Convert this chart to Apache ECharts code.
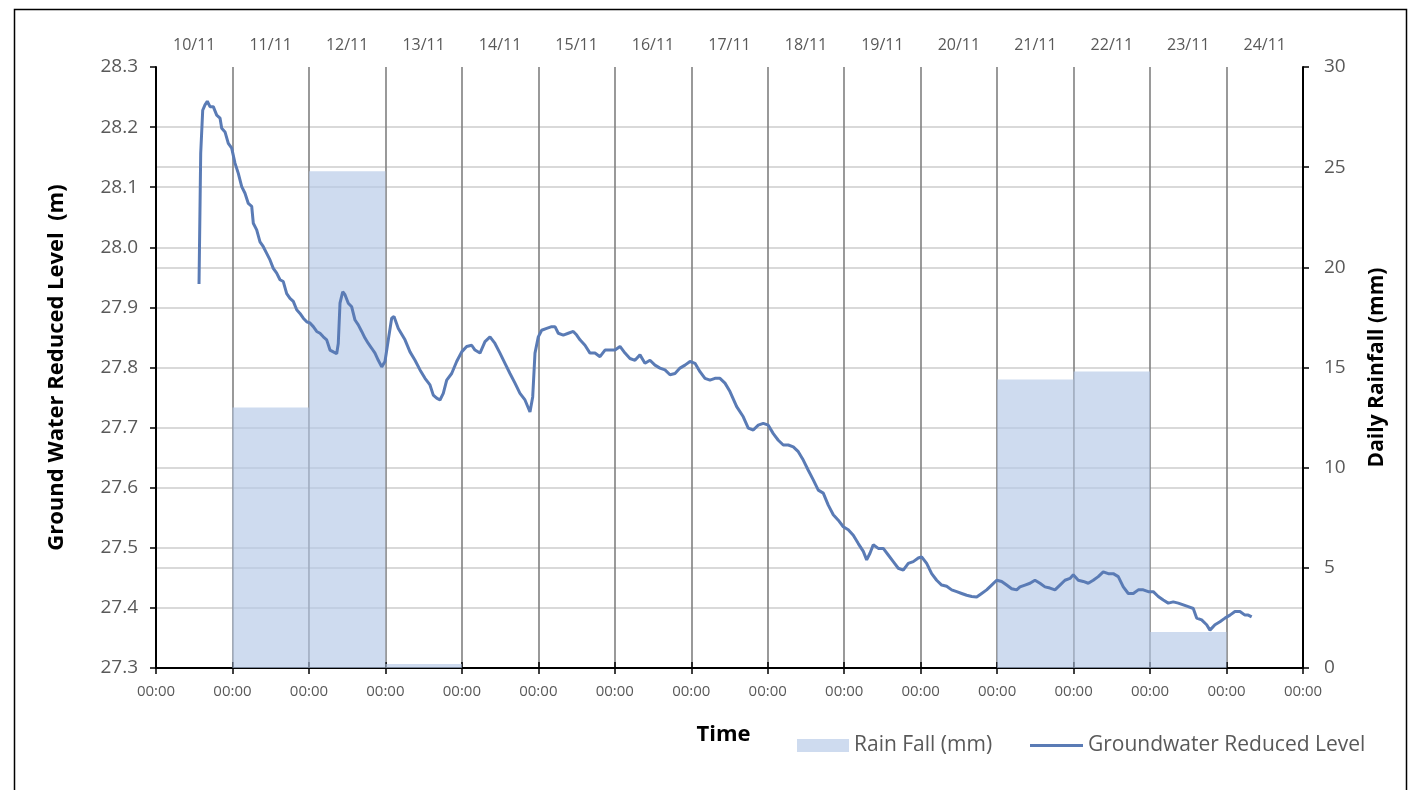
<!DOCTYPE html>
<html>
<head>
<meta charset="utf-8">
<script src="https://cdn.jsdelivr.net/npm/echarts@6/dist/echarts.min.js"></script>
<style>
  html, body { margin: 0; padding: 0; background: #ffffff; }
  #chart { width: 1411px; height: 790px; }
</style>
</head>
<body>
<div id="chart"></div>
<script>
// Day labels along the top axis (one band per day, 10/11 to 24/11)
const days = ['10/11', '11/11', '12/11', '13/11', '14/11', '15/11', '16/11', '17/11',
              '18/11', '19/11', '20/11', '21/11', '22/11', '23/11', '24/11'];

// Daily rainfall (mm) for each day band
const rainfall = [0, 13.0, 24.8, 0.2, 0, 0, 0, 0, 0, 0, 0, 14.4, 14.8, 1.8, 0];

// Groundwater logger: hours since 10/11 00:00 and reduced level (m)
const hours = [
  13.50, 14.03, 14.66, 15.38, 16.10, 16.95, 17.98, 19.05, 20.09, 20.62, 21.66, 22.69, 23.76, 24.79, 25.83, 26.90,
  27.93, 28.97, 30.04, 30.54, 31.60, 32.64, 33.68, 34.74, 35.78, 36.81, 37.88, 38.92, 39.95, 41.02, 42.06, 43.09,
  44.16, 45.19, 46.23, 47.30, 48.33, 49.37, 50.44, 51.47, 52.51, 53.57, 54.61, 55.65, 56.71, 57.21, 57.75, 58.60,
  59.32, 60.35, 61.42, 62.46, 63.49, 64.56, 65.59, 66.63, 67.70, 68.73, 69.77, 70.84, 71.87, 72.91, 73.97, 74.70,
  76.05, 76.58, 78.15, 79.72, 81.29, 82.86, 84.43, 85.99, 87.03, 88.10, 89.13, 90.17, 91.24, 92.80, 94.37, 95.94,
  97.51, 99.08, 100.12, 101.69, 103.26, 104.83, 106.39, 107.96, 109.53, 111.10, 112.67, 114.24, 115.81, 117.38, 118.23, 118.95,
  119.99, 121.05, 122.62, 124.19, 125.23, 126.26, 127.83, 129.40, 130.97, 132.04, 133.07, 134.64, 136.21, 137.78, 139.35, 140.92,
  142.49, 144.06, 145.63, 147.20, 148.76, 150.33, 151.90, 153.47, 155.04, 156.61, 158.18, 159.75, 161.32, 162.89, 164.46, 166.03,
  167.60, 169.17, 170.73, 172.30, 173.87, 175.44, 177.01, 178.58, 180.15, 182.25, 184.32, 185.89, 187.46, 189.03, 190.60, 192.17,
  193.74, 195.31, 196.88, 198.45, 200.02, 201.59, 203.15, 204.72, 206.29, 207.86, 209.43, 211.00, 212.57, 214.14, 215.71, 217.28,
  218.85, 220.42, 221.99, 223.05, 224.09, 225.12, 226.69, 228.26, 229.83, 231.40, 232.97, 234.54, 236.11, 237.68, 239.25, 240.31,
  241.88, 243.45, 245.02, 246.59, 248.16, 249.73, 251.30, 252.87, 254.44, 256.01, 257.58, 259.14, 260.71, 262.28, 263.85, 265.42,
  266.99, 268.56, 270.13, 271.17, 272.74, 274.31, 275.87, 277.44, 279.01, 280.58, 282.15, 283.72, 285.29, 286.86, 287.90, 289.47,
  291.03, 292.60, 294.17, 295.74, 297.31, 298.88, 300.45, 302.02, 303.59, 305.16, 306.73, 308.30, 309.87, 311.44, 313.00, 314.57,
  316.14, 317.71, 319.28, 320.85, 322.42, 323.99, 325.56, 326.62, 328.19, 329.76, 330.80, 332.37, 333.94, 335.51, 337.08, 338.64,
  340.21, 341.78, 342.82, 343.89
];
const levels = [
  27.939, 28.156, 28.228, 28.237, 28.243, 28.234, 28.234, 28.220, 28.215, 28.198, 28.192, 28.173, 28.165, 28.140, 28.123, 28.101,
  28.090, 28.073, 28.068, 28.040, 28.029, 28.009, 28.001, 27.990, 27.979, 27.965, 27.957, 27.946, 27.943, 27.923, 27.915, 27.910,
  27.896, 27.890, 27.882, 27.876, 27.874, 27.868, 27.860, 27.857, 27.851, 27.846, 27.829, 27.826, 27.823, 27.840, 27.907, 27.926,
  27.921, 27.907, 27.901, 27.879, 27.871, 27.860, 27.849, 27.840, 27.832, 27.824, 27.812, 27.801, 27.810, 27.846, 27.882, 27.885,
  27.865, 27.862, 27.846, 27.826, 27.812, 27.796, 27.782, 27.771, 27.754, 27.749, 27.746, 27.757, 27.779, 27.790, 27.810, 27.826,
  27.835, 27.837, 27.829, 27.824, 27.843, 27.851, 27.840, 27.824, 27.807, 27.790, 27.774, 27.757, 27.746, 27.726, 27.751, 27.824,
  27.851, 27.862, 27.865, 27.868, 27.868, 27.857, 27.854, 27.857, 27.860, 27.854, 27.846, 27.837, 27.824, 27.824, 27.818, 27.829,
  27.829, 27.829, 27.835, 27.824, 27.815, 27.812, 27.821, 27.807, 27.812, 27.804, 27.799, 27.796, 27.788, 27.790, 27.799, 27.804,
  27.810, 27.807, 27.793, 27.782, 27.779, 27.782, 27.782, 27.774, 27.760, 27.735, 27.718, 27.699, 27.696, 27.704, 27.707, 27.704,
  27.690, 27.679, 27.671, 27.671, 27.668, 27.660, 27.646, 27.629, 27.613, 27.596, 27.591, 27.571, 27.555, 27.546, 27.535, 27.530,
  27.521, 27.507, 27.494, 27.480, 27.491, 27.505, 27.499, 27.499, 27.488, 27.477, 27.466, 27.463, 27.474, 27.477, 27.483, 27.485,
  27.474, 27.457, 27.446, 27.438, 27.436, 27.430, 27.427, 27.424, 27.421, 27.419, 27.418, 27.424, 27.430, 27.438, 27.446, 27.444,
  27.438, 27.432, 27.430, 27.435, 27.438, 27.441, 27.446, 27.441, 27.435, 27.433, 27.430, 27.438, 27.446, 27.449, 27.455, 27.446,
  27.444, 27.441, 27.446, 27.452, 27.460, 27.457, 27.457, 27.452, 27.435, 27.424, 27.424, 27.430, 27.430, 27.427, 27.427, 27.419,
  27.413, 27.408, 27.410, 27.408, 27.405, 27.402, 27.399, 27.383, 27.380, 27.372, 27.363, 27.372, 27.377, 27.383, 27.388, 27.394,
  27.394, 27.388, 27.388, 27.385
];

const levelPoints = hours.map((h, i) => [h, levels[i]]);

const FONT = '"Open Sans", "Liberation Sans", sans-serif';
const TICK_GREY = '#595959';
const LINE_BLUE = '#5a7bb5';

const chart = echarts.init(document.getElementById('chart'), null, { renderer: 'canvas' });

const legendText = { fontSize: 21, color: TICK_GREY, fontFamily: FONT };

chart.setOption({
  animation: false,
  backgroundColor: '#ffffff',
  textStyle: { fontFamily: FONT },
  grid: { left: 156, right: 108, top: 67, bottom: 122, containLabel: false },
  legend: [
    {
      left: 797,
      top: 735,
      padding: 0,
      itemWidth: 52,
      itemHeight: 13,
      itemGap: 6,
      textStyle: legendText,
      data: [{ name: 'Rain Fall (mm)', icon: 'rect' }]
    },
    {
      left: 1030,
      top: 735,
      padding: 0,
      itemWidth: 53,
      itemHeight: 3,
      textStyle: legendText,
      data: [{ name: 'Groundwater Reduced Level', icon: 'rect' }]
    }
  ],
  xAxis: [
    {
      type: 'value',
      position: 'bottom',
      min: 0,
      max: 360,
      interval: 24,
      name: 'Time',
      nameLocation: 'middle',
      nameGap: 56,
      nameTextStyle: { fontSize: 22, fontWeight: 'bold', color: '#000', fontFamily: FONT, padding: [0, 12, 0, 0] },
      axisLine: { show: true, onZero: false, lineStyle: { color: '#000', width: 2 } },
      axisTick: { show: true, length: 6, lineStyle: { color: '#000', width: 1.5 } },
      axisLabel: { formatter: () => '00:00', color: TICK_GREY, fontSize: 15, margin: 16 },
      splitLine: { show: true, showMinLine: false, showMaxLine: false, lineStyle: { color: '#808080', width: 1.6 } }
    },
    {
      type: 'category',
      position: 'top',
      data: days,
      boundaryGap: true,
      axisLine: { show: true, lineStyle: { color: '#000', width: 2 } },
      axisTick: { show: true, length: 6, lineStyle: { color: '#000', width: 1.5 } },
      axisLabel: { color: TICK_GREY, fontSize: 16, margin: 14 },
      splitLine: { show: false }
    }
  ],
  yAxis: [
    {
      type: 'value',
      position: 'left',
      min: 27.3,
      max: 28.3,
      interval: 0.1,
      name: 'Ground Water Reduced Level  (m)',
      nameLocation: 'middle',
      nameRotate: 90,
      nameGap: 88,
      nameTextStyle: { fontSize: 22, fontWeight: 'bold', color: '#000', fontFamily: FONT },
      axisLine: { show: true, onZero: false, lineStyle: { color: '#000', width: 2 } },
      axisTick: { show: true, length: 6, lineStyle: { color: '#000', width: 1.5 } },
      axisLabel: { formatter: v => v.toFixed(1), color: TICK_GREY, fontSize: 19, margin: 18 },
      splitLine: { show: true, showMinLine: false, showMaxLine: false, lineStyle: { color: '#d9d9d9', width: 2 } }
    },
    {
      type: 'value',
      position: 'right',
      min: 0,
      max: 30,
      interval: 5,
      name: 'Daily Rainfall (mm)',
      nameLocation: 'middle',
      nameRotate: 90,
      nameGap: 64,
      nameTextStyle: { fontSize: 21, fontWeight: 'bold', color: '#000', fontFamily: FONT },
      axisLine: { show: true, onZero: false, lineStyle: { color: '#000', width: 2 } },
      axisTick: { show: true, length: 6, lineStyle: { color: '#000', width: 1.5 } },
      axisLabel: { color: TICK_GREY, fontSize: 19, margin: 21 },
      splitLine: { show: true, showMinLine: false, showMaxLine: false, lineStyle: { color: '#d9d9d9', width: 2 } }
    }
  ],
  series: [
    {
      name: 'Rain Fall (mm)',
      type: 'bar',
      xAxisIndex: 1,
      yAxisIndex: 1,
      data: rainfall,
      barWidth: '100%',
      barCategoryGap: '0%',
      itemStyle: { color: '#b4c7e7', opacity: 0.65 },
      emphasis: { disabled: true }
    },
    {
      name: 'Groundwater Reduced Level',
      type: 'line',
      xAxisIndex: 0,
      yAxisIndex: 0,
      data: levelPoints,
      symbol: 'none',
      showSymbol: false,
      lineStyle: { color: LINE_BLUE, width: 3 },
      itemStyle: { color: LINE_BLUE },
      z: 3
    }
  ],
  graphic: [
    {
      type: 'rect',
      left: 12,
      top: 7,
      shape: { width: 1392, height: 800 },
      style: { fill: null, stroke: '#000', lineWidth: 1.5 },
      silent: true
    }
  ]
});
</script>
</body>
</html>
